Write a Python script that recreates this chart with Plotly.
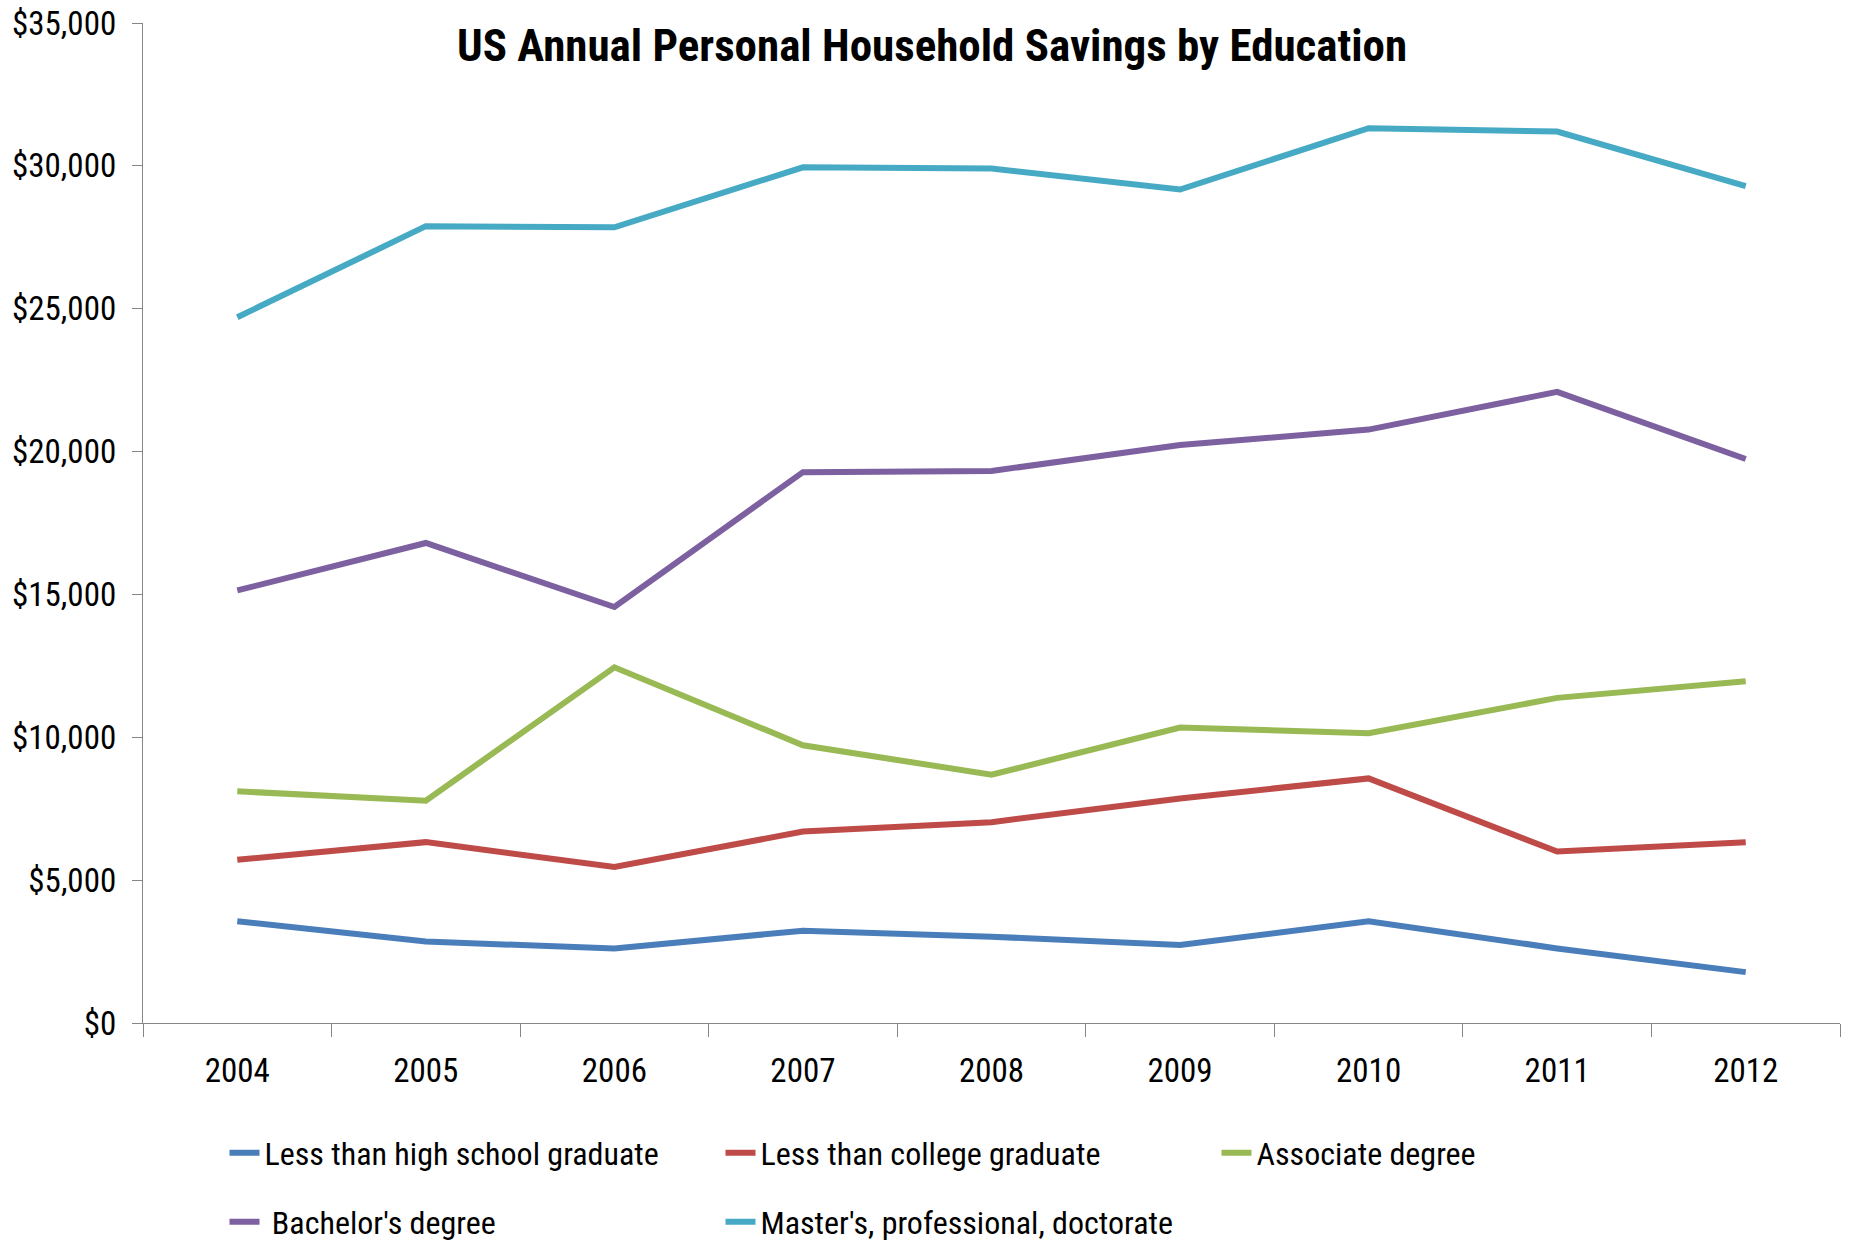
import plotly.graph_objects as go

# Survey years (category axis)
years = ["2004", "2005", "2006", "2007", "2008", "2009", "2010", "2011", "2012"]

# Annual personal household savings (USD) by education level
less_than_high_school = [3560, 2850, 2610, 3230, 3020, 2730, 3560, 2610, 1780]
less_than_college = [5710, 6330, 5460, 6700, 7030, 7860, 8560, 6000, 6330]
associate_degree = [8110, 7780, 12450, 9720, 8690, 10340, 10140, 11380, 11960]
bachelors_degree = [15140, 16800, 14560, 19280, 19320, 20230, 20770, 22090, 19740]
masters_professional_doctorate = [24700, 27890, 27850, 29950, 29910, 29170, 31320, 31200, 29290]

series_names = [
    "Less than high school graduate",
    "Less than college graduate",
    "Associate degree",
    "\u00a0Bachelor's degree",
    "Master's, professional, doctorate",
]
series_values = [
    less_than_high_school,
    less_than_college,
    associate_degree,
    bachelors_degree,
    masters_professional_doctorate,
]
series_colors = ["#4A7EBB", "#BE4B48", "#98B954", "#7D60A0", "#46AAC5"]
series_legends = ["legend", "legend", "legend", "legend2", "legend2"]

FONT = "Roboto Condensed, DejaVu Sans Condensed, Roboto"
AXIS_GREY = "#868686"

fig = go.Figure()
for name, vals, color, leg in zip(series_names, series_values, series_colors, series_legends):
    fig.add_trace(
        go.Scatter(
            x=years,
            y=vals,
            name=name,
            mode="lines",
            line=dict(color=color, width=6),
            legend=leg,
        )
    )

legend_common = dict(
    orientation="h",
    xref="container",
    yref="container",
    xanchor="left",
    yanchor="middle",
    entrywidth=451,
    entrywidthmode="pixels",
    font=dict(family=FONT, size=32, color="#000000"),
    bgcolor="rgba(0,0,0,0)",
    traceorder="normal",
)

fig.update_layout(
    width=1853,
    height=1243,
    paper_bgcolor="white",
    plot_bgcolor="white",
    margin=dict(l=143, r=13, t=23, b=220),
    font=dict(family=FONT, size=33, color="#000000"),
    title=dict(
        text="<b>US Annual Personal Household Savings by Education</b>",
        font=dict(family=FONT, size=45, color="#000000"),
        xref="container",
        yref="container",
        x=0.503,
        y=1 - 45 / 1243,
        xanchor="center",
        yanchor="middle",
    ),
    legend=dict(legend_common, x=224.5 / 1853, y=1 - 1153 / 1243),
    legend2=dict(legend_common, x=224.5 / 1853, y=1 - 1222 / 1243),
    showlegend=True,
)

fig.update_xaxes(
    type="category",
    range=[-0.5, 8.5],
    tickson="boundaries",
    ticks="outside",
    ticklen=13,
    tickwidth=1.3,
    tickcolor=AXIS_GREY,
    showline=True,
    linecolor=AXIS_GREY,
    linewidth=1.3,
    showgrid=False,
    zeroline=False,
    automargin=False,
    ticklabelstandoff=18,
    tickfont=dict(family=FONT, size=33, color="#000000"),
)

fig.update_yaxes(
    range=[0, 35000],
    dtick=5000,
    tick0=0,
    tickprefix="$",
    tickformat=",d",
    ticks="outside",
    ticklen=10,
    tickwidth=1.3,
    tickcolor=AXIS_GREY,
    showline=True,
    linecolor=AXIS_GREY,
    linewidth=1.3,
    showgrid=False,
    zeroline=False,
    automargin=False,
    ticklabelstandoff=9,
    tickfont=dict(family=FONT, size=33, color="#000000"),
)

fig.write_html("out.html")
